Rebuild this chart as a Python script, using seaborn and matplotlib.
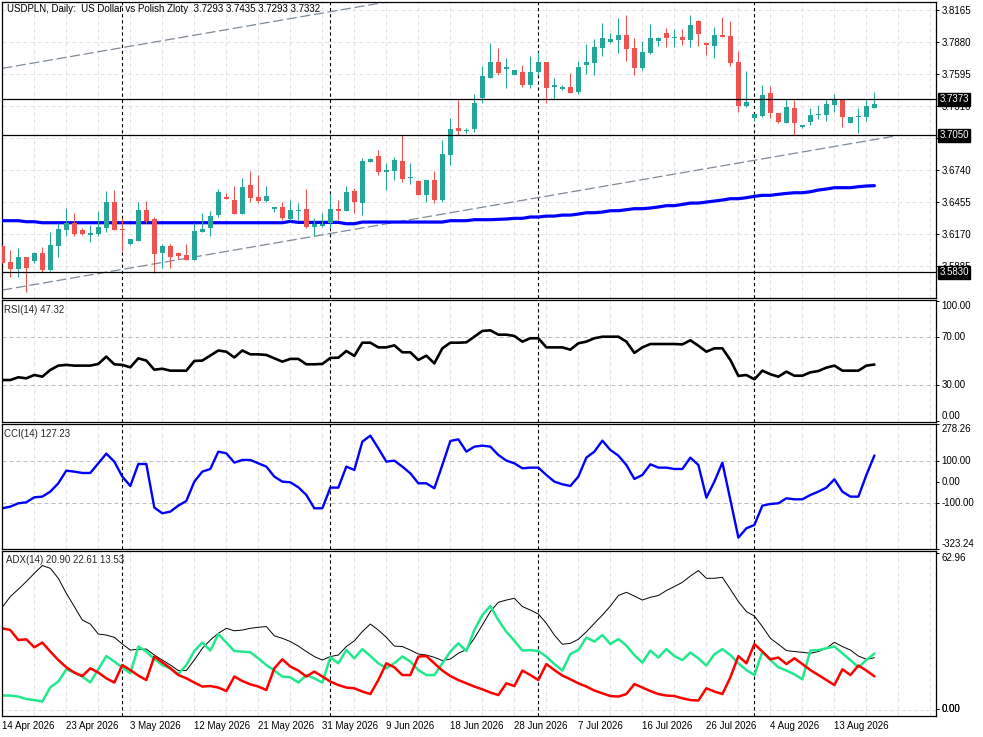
import numpy as np
import matplotlib
matplotlib.use('Agg')
import matplotlib.pyplot as plt
import seaborn as sns

sns.set_style('white')
plt.rcParams['font.family'] = ['Liberation Sans', 'DejaVu Sans']

# USDPLN daily candles
opens = [3.6065, 3.5923, 3.5863, 3.5967, 3.5932, 3.6003, 3.5854, 3.6068, 3.6208, 3.6267,
         3.6208, 3.6166, 3.6172, 3.6225, 3.6457, 3.6214, 3.6083, 3.6110, 3.6386, 3.6306,
         3.6006, 3.6065, 3.6000, 3.5982, 3.5943, 3.6193, 3.6228, 3.6341, 3.6499, 3.6475,
         3.6353, 3.6609, 3.6499, 3.6466, 3.6395, 3.6410, 3.6303, 3.6380, 3.6395, 3.6237,
         3.6246, 3.6267, 3.6392, 3.6377, 3.6555, 3.6451, 3.6816, 3.6867, 3.6727, 3.6736,
         3.6822, 3.6668, 3.6647, 3.6520, 3.6653, 3.6475, 3.6876, 3.7117, 3.7093, 3.7108,
         3.7381, 3.7559, 3.7708, 3.7645, 3.7592, 3.7618, 3.7500, 3.7618, 3.7708, 3.7479,
         3.7461, 3.7482, 3.7440, 3.7681, 3.7699, 3.7832, 3.7886, 3.7904, 3.7948, 3.7832,
         3.7648, 3.7782, 3.7895, 3.7966, 3.7921, 3.7927, 3.7904, 3.8067, 3.7877, 3.7850,
         3.7948, 3.7939, 3.7705, 3.7313, 3.7209, 3.7226, 3.7431, 3.7253, 3.7164, 3.7298,
         3.7128, 3.7173, 3.7229, 3.7232, 3.7321, 3.7372, 3.7164, 3.7212, 3.7217, 3.7293]
highs = [3.6074, 3.6029, 3.6044, 3.5967, 3.6015, 3.6053, 3.6190, 3.6267, 3.6401, 3.6356,
         3.6222, 3.6249, 3.6377, 3.6555, 3.6561, 3.6312, 3.6128, 3.6454, 3.6466, 3.6326,
         3.6080, 3.6080, 3.6015, 3.6080, 3.6273, 3.6356, 3.6377, 3.6573, 3.6540, 3.6600,
         3.6674, 3.6733, 3.6698, 3.6603, 3.6416, 3.6457, 3.6475, 3.6451, 3.6570, 3.6312,
         3.6356, 3.6525, 3.6475, 3.6600, 3.6585, 3.6846, 3.6846, 3.6920, 3.6808, 3.6861,
         3.7051, 3.6802, 3.6653, 3.6653, 3.6733, 3.7010, 3.7209, 3.7363, 3.7120, 3.7419,
         3.7672, 3.7877, 3.7832, 3.7743, 3.7633, 3.7678, 3.7761, 3.7797, 3.7708, 3.7562,
         3.7500, 3.7610, 3.7713, 3.7868, 3.7910, 3.8055, 3.7960, 3.8100, 3.8123, 3.7921,
         3.7895, 3.8046, 3.7927, 3.8010, 3.7996, 3.8002, 3.8123, 3.8082, 3.7886, 3.8019,
         3.8108, 3.8070, 3.7803, 3.7627, 3.7241, 3.7500, 3.7491, 3.7253, 3.7372, 3.7366,
         3.7143, 3.7292, 3.7321, 3.7372, 3.7419, 3.7372, 3.7212, 3.7298, 3.7372, 3.7435]
lows = [3.5911, 3.5792, 3.5792, 3.5658, 3.5911, 3.5837, 3.5846, 3.5970, 3.6154, 3.6154,
        3.6163, 3.6104, 3.6154, 3.6193, 3.6208, 3.6023, 3.6074, 3.6110, 3.6273, 3.5822,
        3.5866, 3.5866, 3.5946, 3.5941, 3.5943, 3.6193, 3.6157, 3.6326, 3.6481, 3.6353,
        3.6353, 3.6460, 3.6445, 3.6460, 3.6368, 3.6297, 3.6297, 3.6297, 3.6228, 3.6154,
        3.6237, 3.6222, 3.6297, 3.6377, 3.6362, 3.6341, 3.6811, 3.6698, 3.6564, 3.6653,
        3.6638, 3.6618, 3.6520, 3.6460, 3.6451, 3.6460, 3.6787, 3.7054, 3.7075, 3.7084,
        3.7336, 3.7559, 3.7589, 3.7476, 3.7592, 3.7485, 3.7470, 3.7589, 3.7342, 3.7366,
        3.7455, 3.7425, 3.7416, 3.7598, 3.7589, 3.7758, 3.7877, 3.7782, 3.7713, 3.7589,
        3.7633, 3.7776, 3.7850, 3.7841, 3.7841, 3.7856, 3.7841, 3.7850, 3.7767, 3.7743,
        3.7924, 3.7672, 3.7262, 3.7307, 3.7182, 3.7212, 3.7203, 3.7164, 3.7164, 3.7054,
        3.7120, 3.7143, 3.7194, 3.7182, 3.7262, 3.7128, 3.7164, 3.7069, 3.7182, 3.7293]
closes = [3.5917, 3.5863, 3.5967, 3.5872, 3.6003, 3.5854, 3.6074, 3.6217, 3.6267, 3.6172,
          3.6172, 3.6178, 3.6231, 3.6457, 3.6208, 3.6208, 3.6128, 3.6386, 3.6291, 3.5994,
          3.6065, 3.5964, 3.5976, 3.5943, 3.6199, 3.6217, 3.6332, 3.6546, 3.6487, 3.6353,
          3.6591, 3.6496, 3.6469, 3.6511, 3.6410, 3.6312, 3.6386, 3.6386, 3.6237, 3.6264,
          3.6261, 3.6395, 3.6380, 3.6546, 3.6460, 3.6819, 3.6840, 3.6727, 3.6742, 3.6831,
          3.6662, 3.6677, 3.6520, 3.6653, 3.6475, 3.6888, 3.7111, 3.7093, 3.7099, 3.7336,
          3.7583, 3.7708, 3.7610, 3.7660, 3.7633, 3.7500, 3.7618, 3.7708, 3.7476, 3.7500,
          3.7482, 3.7431, 3.7660, 3.7705, 3.7838, 3.7918, 3.7910, 3.7948, 3.7823, 3.7654,
          3.7797, 3.7918, 3.7918, 3.7918, 3.7927, 3.7901, 3.8037, 3.7957, 3.7859, 3.7948,
          3.7930, 3.7699, 3.7313, 3.7348, 3.7241, 3.7411, 3.7247, 3.7173, 3.7304, 3.7158,
          3.7143, 3.7232, 3.7241, 3.7330, 3.7372, 3.7217, 3.7212, 3.7223, 3.7313, 3.7332]

# moving average (blue)
ma_line = [3.6291, 3.6291, 3.6291, 3.6282, 3.6282, 3.6273, 3.6273, 3.6273, 3.6273, 3.6273,
           3.6273, 3.6273, 3.6273, 3.6273, 3.6273, 3.6273, 3.6273, 3.6273, 3.6273, 3.6273,
           3.6273, 3.6273, 3.6273, 3.6273, 3.6273, 3.6273, 3.6273, 3.6273, 3.6273, 3.6273,
           3.6273, 3.6273, 3.6273, 3.6273, 3.6273, 3.6273, 3.6285, 3.6276, 3.6276, 3.6276,
           3.6276, 3.6276, 3.6276, 3.6264, 3.6264, 3.6279, 3.6279, 3.6279, 3.6279, 3.6279,
           3.6279, 3.6279, 3.6279, 3.6279, 3.6279, 3.6279, 3.6291, 3.6291, 3.6291, 3.6300,
           3.6300, 3.6300, 3.6303, 3.6306, 3.6312, 3.6312, 3.6324, 3.6324, 3.6332, 3.6332,
           3.6341, 3.6341, 3.6350, 3.6362, 3.6362, 3.6368, 3.6380, 3.6380, 3.6389, 3.6398,
           3.6398, 3.6404, 3.6413, 3.6425, 3.6425, 3.6436, 3.6448, 3.6448, 3.6457, 3.6466,
           3.6475, 3.6487, 3.6487, 3.6496, 3.6508, 3.6517, 3.6517, 3.6526, 3.6534, 3.6540,
           3.6540, 3.6549, 3.6564, 3.6573, 3.6585, 3.6585, 3.6585, 3.6594, 3.6600, 3.6603]

rsi = [34.4, 34.4, 36.7, 35.8, 38.6, 37.2, 42.8, 46.4, 47.0, 46.4,
       46.4, 46.4, 47.8, 53.9, 47.5, 47.0, 45.0, 52.5, 50.6, 43.0,
       43.8, 42.2, 42.2, 42.2, 50.3, 50.6, 54.8, 59.0, 58.0, 53.2,
       59.0, 55.8, 55.8, 55.3, 52.5, 49.7, 52.0, 52.0, 47.5, 47.5,
       47.8, 52.8, 53.0, 58.6, 54.5, 65.5, 65.5, 61.6, 61.6, 63.3,
       57.5, 57.5, 51.1, 54.7, 48.3, 60.8, 65.5, 65.5, 65.8, 70.5,
       75.3, 75.8, 72.2, 72.2, 71.1, 66.4, 69.2, 69.2, 61.6, 61.6,
       61.6, 59.7, 65.0, 66.4, 69.2, 70.5, 70.5, 70.5, 66.4, 57.0,
       61.6, 64.4, 64.4, 64.4, 64.4, 64.1, 67.5, 63.0, 58.0, 60.8,
       60.8, 51.1, 37.8, 38.6, 35.0, 42.2, 39.2, 37.2, 41.4, 38.0,
       38.0, 40.8, 41.9, 44.7, 46.4, 42.2, 42.2, 42.2, 46.4, 47.3]

cci = [-126.4, -118.4, -102.4, -97.6, -73.6, -70.4, -46.4, -6.4, 54.4, 49.6,
       43.2, 43.2, 89.6, 136.0, 97.6, 25.6, -19.2, 86.4, 86.4, -123.0,
       -150.4, -142.4, -113.6, -91.2, 1.6, 49.6, 62.4, 145.6, 137.6, 92.8,
       105.6, 105.6, 89.6, 73.6, 25.6, 1.6, -1.6, -25.6, -62.4, -126.4,
       -126.4, -27.2, -27.2, 73.6, 57.6, 193.6, 222.4, 161.6, 97.6, 102.4,
       73.6, 41.6, -6.4, -6.4, -30.4, 81.6, 196.8, 204.8, 145.6, 169.6,
       174.4, 169.6, 129.6, 102.4, 89.6, 65.6, 68.8, 68.8, 33.6, 1.6,
       -11.2, -19.2, 25.6, 116.8, 145.6, 198.4, 153.6, 126.4, 81.6, 14.4,
       33.6, 84.8, 68.8, 68.8, 62.4, 62.4, 116.8, 81.6, -75.2, 1.6,
       92.8, -86.4, -267.2, -222.4, -206.4, -113.6, -105.6, -102.4, -78.4, -83.2,
       -83.2, -62.4, -46.4, -27.2, 12.8, -46.4, -70.4, -70.4, 33.6, 127.2]

adx = [41.1, 45.4, 48.3, 51.4, 54.7, 57.8, 56.7, 52.7, 46.7, 41.4,
       36.0, 34.4, 30.4, 30.0, 29.1, 26.4, 24.0, 24.3, 24.4, 22.0,
       20.0, 18.0, 15.8, 15.8, 20.0, 24.7, 28.0, 30.7, 32.7, 31.7,
       32.0, 32.7, 33.1, 33.4, 29.7, 28.7, 27.4, 25.6, 23.4, 21.4,
       20.0, 21.4, 22.0, 25.4, 27.7, 31.4, 34.4, 32.0, 29.1, 25.6,
       25.4, 24.0, 22.4, 22.0, 21.1, 19.8, 20.4, 22.7, 24.2, 28.7,
       34.0, 39.4, 43.1, 44.0, 44.7, 41.4, 40.0, 38.4, 34.7, 30.0,
       26.3, 26.7, 28.3, 31.3, 34.7, 38.0, 41.6, 45.8, 47.1, 45.6,
       44.0, 45.1, 45.8, 47.8, 49.4, 51.1, 53.6, 55.8, 52.7, 52.7,
       53.1, 48.3, 43.4, 39.4, 37.6, 33.4, 28.7, 26.3, 23.8, 23.4,
       23.1, 22.7, 23.4, 24.7, 27.1, 25.4, 24.0, 21.6, 20.3, 20.9]
plus_di = [5.8, 5.8, 5.4, 4.4, 4.0, 3.4, 9.1, 11.4, 16.3, 15.0,
           13.4, 11.1, 16.3, 21.6, 19.4, 17.0, 14.7, 25.4, 23.4, 20.4,
           18.0, 16.7, 14.4, 18.0, 23.6, 27.0, 23.8, 30.4, 27.0, 23.6,
           23.4, 23.1, 20.7, 18.0, 15.8, 13.4, 13.1, 11.0, 14.0, 12.7,
           11.0, 21.1, 18.7, 24.0, 20.7, 24.4, 21.6, 18.7, 16.7, 18.7,
           21.4, 19.4, 16.0, 14.0, 14.0, 18.7, 23.4, 26.7, 23.6, 32.0,
           38.0, 41.6, 36.0, 31.3, 27.7, 23.8, 24.0, 23.6, 21.4, 18.4,
           15.8, 22.4, 24.0, 29.0, 27.4, 30.0, 26.4, 28.4, 25.8, 22.0,
           19.0, 23.8, 21.0, 24.4, 21.6, 20.0, 23.0, 20.7, 17.8, 22.3,
           24.4, 22.0, 18.7, 16.0, 14.0, 23.4, 20.0, 17.1, 15.8, 14.3,
           12.3, 23.8, 24.0, 24.7, 25.4, 22.7, 20.0, 17.1, 20.0, 22.6]
minus_di = [32.7, 32.0, 28.0, 28.3, 25.1, 27.0, 23.4, 20.0, 17.1, 15.0,
            13.6, 16.7, 15.0, 12.7, 11.0, 18.0, 16.0, 13.8, 12.0, 21.4,
            19.1, 16.7, 14.0, 12.7, 11.0, 9.4, 9.6, 9.0, 7.6, 13.4,
            11.6, 10.3, 9.4, 8.0, 16.7, 20.3, 17.4, 15.8, 13.4, 15.4,
            13.4, 11.4, 10.0, 9.0, 8.7, 7.4, 6.4, 12.0, 18.7, 17.1,
            14.0, 14.0, 21.4, 21.6, 18.7, 15.8, 13.6, 12.0, 10.7, 9.4,
            8.3, 7.0, 6.0, 10.7, 9.6, 15.8, 14.0, 12.0, 18.4, 16.0,
            13.8, 12.3, 10.7, 9.4, 7.8, 6.7, 5.6, 5.4, 6.4, 10.4,
            9.0, 7.6, 6.4, 5.8, 5.6, 4.7, 4.0, 3.8, 8.7, 7.4,
            6.4, 13.1, 21.6, 18.7, 26.4, 23.4, 20.3, 21.0, 18.4, 20.7,
            18.4, 16.0, 14.0, 12.0, 10.0, 16.3, 14.0, 17.8, 15.8, 13.5]

# channel trend lines (bar index, price at both ends)
channel_bars = [0, 111.8]
channel_low = [3.5673, 3.7048]
channel_high = [3.7648, 3.9023]
levels = [3.7373, 3.7050, 3.5830]
month_starts = [15, 41, 67, 94]

date_labels = ['14 Apr 2026', '23 Apr 2026', '3 May 2026', '12 May 2026', '21 May 2026',
               '31 May 2026', '9 Jun 2026', '18 Jun 2026', '28 Jun 2026', '7 Jul 2026',
               '16 Jul 2026', '26 Jul 2026', '4 Aug 2026', '13 Aug 2026']
price_ticks = [3.8165, 3.7880, 3.7595, 3.7310, 3.7025, 3.6740, 3.6455, 3.6170, 3.5885]

bars = np.arange(len(closes))
o = np.array(opens); h = np.array(highs); l = np.array(lows); c = np.array(closes)

W, H = 983, 737
def frame(x0, y0, x1, y1):
    return [x0 / W, 1 - y1 / H, (x1 - x0) / W, (y1 - y0) / H]

fig = plt.figure(figsize=(W / 100, H / 100), dpi=100)
ax_p = fig.add_axes(frame(2.3, 2.3, 936, 298.3))
ax_r = fig.add_axes(frame(2.3, 300.3, 936, 422))
ax_c = fig.add_axes(frame(2.3, 424, 936, 549.3))
ax_a = fig.add_axes(frame(2.3, 551.3, 936, 715.7))

grid_col = '#e3e3e3'
for ax in [ax_p, ax_r, ax_c, ax_a]:
    ax.set_xlim(0, 116.7)
    for s in ax.spines.values():
        s.set_color('black')
        s.set_linewidth(0.9)
    ax.yaxis.tick_right()
    ax.tick_params(axis='y', direction='out', length=2.5, width=0.7, pad=1.5,
                   labelsize=7, colors='black', left=False)
    ax.tick_params(axis='x', length=0, labelbottom=False)
    for g in range(4, 117, 4):
        ax.axvline(g, color=grid_col, lw=0.72, ls=(0, (4, 3)), zorder=0)
    for m in month_starts:
        ax.axvline(m, color='black', lw=0.8, ls=(0, (3, 2.5)), zorder=1)

# price panel
ax_p.set_ylim(3.5600, 3.8236)
for p in price_ticks:
    ax_p.axhline(p, color=grid_col, lw=0.72, ls=(0, (4, 3)), zorder=0)
ax_p.set_yticks(price_ticks, ['%.4f' % p for p in price_ticks])

ax_p.plot(channel_bars, channel_high, color='#7d8a99', lw=0.9, ls=(0, (8, 3)), zorder=2)
ax_p.plot(channel_bars, channel_low, color='#7d8a99', lw=0.9, ls=(0, (8, 3)), zorder=2)
sns.lineplot(x=bars, y=ma_line, ax=ax_p, color='#0000ff', linewidth=2.3, zorder=3)

up = c >= o
cols = np.where(up, '#26a69a', '#ef5350')
ax_p.vlines(bars, l, h, colors=cols, lw=0.8, zorder=4)
ax_p.bar(bars, np.maximum(np.abs(c - o), 0.00025), bottom=np.minimum(o, c),
         width=0.62, color=cols, linewidth=0, zorder=5)

for lv in levels:
    ax_p.axhline(lv, color='black', lw=0.9, zorder=6)
    ax_p.annotate('%.4f' % lv, xy=(1, lv), xycoords=ax_p.get_yaxis_transform(),
                  xytext=(2.4, 0), textcoords='offset points', ha='left', va='center',
                  fontsize=7, color='white', annotation_clip=False, zorder=10,
                  bbox=dict(boxstyle='square,pad=0.15', fc='black', ec='black'))
ax_p.set_xlabel(''); ax_p.set_ylabel('')

# RSI
ax_r.set_ylim(-0.58, 100.83)
for lv in [70, 30]:
    ax_r.axhline(lv, color='#bdbdbd', lw=0.72, ls=(0, (4, 3)), zorder=0)
sns.lineplot(x=bars, y=rsi, ax=ax_r, color='black', linewidth=1.9)
ax_r.set_yticks([100, 70, 30, 0], ['100.00', '70.00', '30.00', '0.00'])

# CCI
ax_c.set_ylim(-323.24, 278.26)
for lv in [100, -100]:
    ax_c.axhline(lv, color='#bdbdbd', lw=0.72, ls=(0, (4, 3)), zorder=0)
sns.lineplot(x=bars, y=cci, ax=ax_c, color='#0000ff', linewidth=1.7)
ax_c.set_yticks([278.26, 100, 0, -100, -323.24],
                ['278.26', '100.00', '0.00', '-100.00', '-323.24'])

# ADX
ax_a.set_ylim(-2.26, 63.5)
ax_a.axhline(0.0, color='#dcdcdc', lw=0.72, ls=(0, (3, 3)), zorder=0)
sns.lineplot(x=bars, y=adx, ax=ax_a, color='black', linewidth=0.7)
sns.lineplot(x=bars, y=plus_di, ax=ax_a, color='#22e88c', linewidth=1.8)
sns.lineplot(x=bars, y=minus_di, ax=ax_a, color='#ff0000', linewidth=1.8)
# MT4 draws the panel minimum and zero labels on top of each other
ax_a.set_yticks([62.96, 0.5, 0.5], ['62.96', '0.81', '0.00'])

for ax, vas in [(ax_r, ['top', 'center', 'center', 'bottom']),
                (ax_c, ['top', 'center', 'center', 'center', 'bottom']),
                (ax_a, ['top', 'center', 'center'])]:
    ax.set_xlabel(''); ax.set_ylabel('')
    for lab, va in zip(ax.get_yticklabels(), vas):
        lab.set_verticalalignment(va)

ax_a.set_xticks(list(range(0, 8 * len(date_labels), 8)), date_labels)
ax_a.tick_params(axis='x', direction='out', length=3, width=0.7, pad=1.0,
                 labelsize=7, labelbottom=True, colors='black')
for lab in ax_a.get_xticklabels():
    lab.set_horizontalalignment('left')

fig.text(7 / W, 1 - 9.5 / H,
         'USDPLN, Daily:  US Dollar vs Polish Zloty  3.7293 3.7435 3.7293 3.7332',
         fontsize=7, va='center', ha='left', color='black')
fig.text(3.5 / W, 1 - 310.3 / H, 'RSI(14) 47.32', fontsize=7, va='center', ha='left')
fig.text(3.5 / W, 1 - 433.5 / H, 'CCI(14) 127.23', fontsize=7, va='center', ha='left')
fig.text(6 / W, 1 - 560.3 / H, 'ADX(14) 20.90 22.61 13.53', fontsize=7, va='center', ha='left')

fig.savefig('out.png', dpi=100)
